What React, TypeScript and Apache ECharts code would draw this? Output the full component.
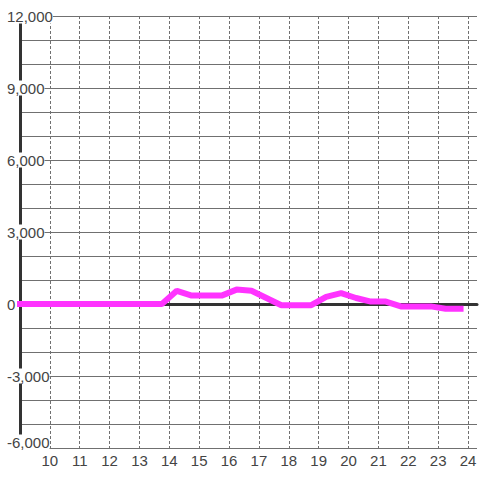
import React, { useEffect, useRef } from "react";
import * as echarts from "echarts";

const xValues = [
  8.75, 9.25, 9.75, 10.25, 10.75, 11.25, 11.75, 12.25, 12.75, 13.25, 13.75,
  14.25, 14.75, 15.25, 15.75, 16.25, 16.75, 17.25, 17.75, 18.25, 18.75,
  19.25, 19.75, 20.25, 20.75, 21.25, 21.75, 22.25, 22.75, 23.25, 23.85,
];
const yValues = [
  0, 0, 0, 0, 0, 0, 0, 0, 0, 0, 0,
  550, 350, 350, 350, 600, 550, 250, -50, -50, -50,
  300, 450, 250, 100, 100, -100, -100, -100, -200, -200,
];
const xMin = 9;
const xMax = 24.3;
const yMin = -6000;
const yMax = 12000;
const yStep = 3000;

export default function App() {
  const ref = useRef<HTMLDivElement>(null);
  useEffect(() => {
    if (!ref.current) return;
    const chart = echarts.init(ref.current, undefined, { renderer: "svg" });
    const font = "Liberation Sans, Arial, sans-serif";
    const gridColor = "#707070";
    // one colour per vertical split line (ticks 9..24 plus the boundary at xMax)
    const vColors: string[] = [];
    for (let v = xMin; v <= 24; v++) vColors.push(gridColor);
    vColors.push("rgba(0,0,0,0)");
    chart.setOption({
      animation: false,
      backgroundColor: "#ffffff",
      grid: { left: 20, right: 0, top: 16, bottom: 32, containLabel: false },
      xAxis: [
        {
          type: "value",
          min: xMin,
          max: xMax,
          interval: 1,
          axisLine: { show: false, onZero: false },
          axisTick: { show: false },
          axisLabel: {
            color: "#444",
            fontSize: 15,
            fontFamily: font,
            margin: 5,
            showMinLabel: false,
            formatter: (v: number) =>
              Number.isInteger(v) && v >= 10 ? String(v) : "",
          },
          splitLine: {
            show: true,
            lineStyle: { color: vColors, width: 1, type: [3, 2] },
          },
        },
        {
          type: "value",
          min: xMin,
          max: xMax,
          interval: 1,
          axisLine: { show: true, onZero: true, lineStyle: { color: "#333", width: 3 } },
          axisTick: { show: false },
          axisLabel: { show: false },
          splitLine: { show: false },
        },
      ],
      yAxis: {
        type: "value",
        min: yMin,
        max: yMax,
        interval: yStep,
        axisLine: { show: true, onZero: false, lineStyle: { color: "#333", width: 3 } },
        axisTick: { show: false },
        minorTick: { show: false, splitNumber: 3 },
        axisLabel: {
          color: "#444",
          fontSize: 15,
          fontFamily: font,
          align: "left",
          margin: 13,
          backgroundColor: "#ffffff",
          formatter: (v: number) =>
            v === yMin ? "{low|" + v.toLocaleString("en-US") + "}" : v.toLocaleString("en-US"),
          rich: {
            low: {
              color: "#444",
              fontSize: 15,
              fontFamily: font,
              padding: [0, 0, 12, 0],
            },
          },
        },
        splitLine: { show: true, lineStyle: { color: gridColor, width: 1 } },
        minorSplitLine: { show: true, lineStyle: { color: gridColor, width: 1 } },
      },
      series: [
        {
          type: "line",
          data: xValues.map((x, i) => [x, yValues[i]]),
          showSymbol: false,
          clip: true,
          lineStyle: { color: "#ff33ff", width: 6 },
          itemStyle: { color: "#ff33ff" },
        },
      ],
    });
    return () => chart.dispose();
  }, []);
  return (
    <div
      ref={ref}
      style={{ position: "fixed", left: 0, top: 0, width: 480, height: 480 }}
    />
  );
}
